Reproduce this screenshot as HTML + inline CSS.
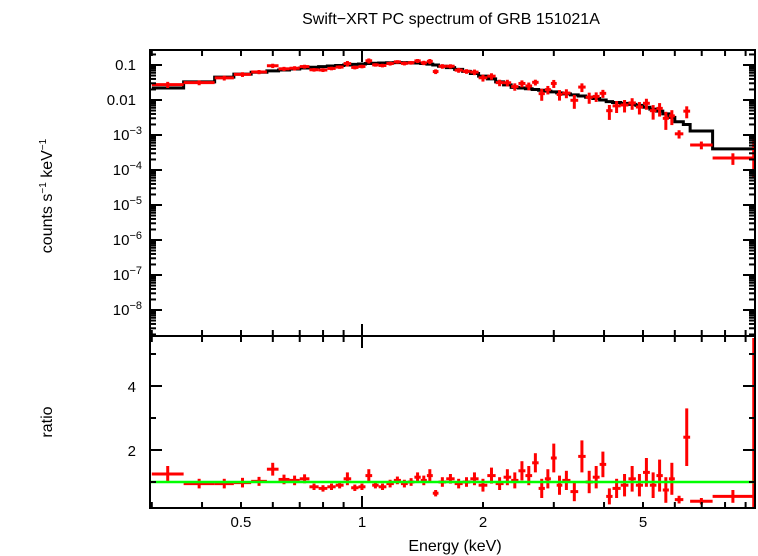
<!DOCTYPE html>
<html><head><meta charset="utf-8"><style>
body{margin:0;background:#fff;}
svg{display:block;font-family:"Liberation Sans",sans-serif;}
</style></head><body>
<svg id="chart" width="758" height="556" viewBox="0 0 758 556" xmlns="http://www.w3.org/2000/svg">
<text x="451" y="24" font-size="16" text-anchor="middle">Swift−XRT PC spectrum of GRB 151021A</text>
<text transform="translate(52,196) rotate(-90)" font-size="16" text-anchor="middle">counts s<tspan dy="-6" font-size="10">−1</tspan><tspan dy="6"> keV</tspan><tspan dy="-6" font-size="10">−1</tspan></text>
<text transform="translate(52,422) rotate(-90)" font-size="16" text-anchor="middle">ratio</text>
<text x="455" y="551" font-size="16" text-anchor="middle">Energy (keV)</text>
<g id="marks"></g>
<g id="axes"></g>
</svg>
<script>
const eLo=[0.30,0.36,0.43,0.48,0.53,0.58,0.62,0.66,0.70,0.74,0.78,0.82,0.86,0.90,0.94,0.98,1.02,1.06,1.10,1.15,1.20,1.25,1.30,1.35,1.40,1.45,1.50,1.55,1.62,1.70,1.78,1.86,1.95,2.05,2.15,2.25,2.35,2.45,2.55,2.65,2.75,2.85,2.95,3.05,3.15,3.30,3.45,3.60,3.75,3.90,4.05,4.20,4.40,4.60,4.80,5.00,5.20,5.40,5.60,5.80,6.00,6.30,6.55,7.45];
const eHi=[0.36,0.43,0.48,0.53,0.58,0.62,0.66,0.70,0.74,0.78,0.82,0.86,0.90,0.94,0.98,1.02,1.06,1.10,1.15,1.20,1.25,1.30,1.35,1.40,1.45,1.50,1.55,1.62,1.70,1.78,1.86,1.95,2.05,2.15,2.25,2.35,2.45,2.55,2.65,2.75,2.85,2.95,3.05,3.15,3.30,3.45,3.60,3.75,3.90,4.05,4.20,4.40,4.60,4.80,5.00,5.20,5.40,5.60,5.80,6.00,6.30,6.55,7.45,9.40];
const model=[0.022,0.033,0.045,0.055,0.062,0.068,0.072,0.077,0.082,0.086,0.09,0.094,0.097,0.10,0.104,0.107,0.11,0.112,0.114,0.116,0.117,0.117,0.116,0.114,0.11,0.106,0.10,0.092,0.084,0.075,0.066,0.057,0.048,0.04,0.033,0.027,0.023,0.022,0.021,0.020,0.019,0.018,0.017,0.016,0.015,0.014,0.013,0.012,0.011,0.010,0.009,0.0085,0.008,0.0075,0.007,0.0062,0.0055,0.0048,0.0040,0.0032,0.0024,0.0020,0.0013,0.0004];
const ratio=[1.25,0.95,0.95,0.98,1.02,1.4,1.08,1.05,1.1,0.85,0.8,0.85,0.9,1.1,0.82,0.85,1.2,0.9,0.85,0.95,1.05,0.95,1.0,1.15,1.05,1.2,0.65,1.0,1.1,0.95,1.0,1.1,0.9,1.2,0.95,1.15,1.05,1.35,1.2,1.6,0.8,1.1,1.75,0.9,1.05,0.7,1.8,1.0,1.15,1.55,0.55,0.8,0.9,1.1,0.9,1.3,0.9,1.2,0.75,1.1,0.45,2.4,0.4,0.55];
const ratioErr=[0.25,0.15,0.15,0.15,0.14,0.2,0.15,0.15,0.14,0.1,0.1,0.1,0.1,0.2,0.1,0.1,0.2,0.1,0.1,0.12,0.12,0.12,0.12,0.15,0.15,0.2,0.1,0.15,0.15,0.15,0.15,0.2,0.2,0.25,0.2,0.25,0.25,0.3,0.3,0.3,0.3,0.3,0.45,0.3,0.3,0.3,0.5,0.35,0.35,0.4,0.25,0.3,0.35,0.4,0.35,0.45,0.4,0.5,0.4,0.5,0.12,0.9,0.1,0.2];
const xTickLabels=[0.5,1,2,5];
const yTopTickExps=[-1,-2,-3,-4,-5,-6,-7,-8];
const yBotTickLabels=[2,4];

const L=150,R=755,T=50,M=336,B=508;
const X=e=>362+402*Math.log10(e);
const YT=v=>65-35*(Math.log10(v)+1);
const YB=r=>482-32*(r-1);
const NS="http://www.w3.org/2000/svg";
const marks=document.getElementById('marks'),axes=document.getElementById('axes');
function mk(p,tag,at){const e=document.createElementNS(NS,tag);for(const k in at)e.setAttribute(k,at[k]);p.appendChild(e);return e;}
const clip=v=>Math.max(T,Math.min(M,v));
const clipB=v=>Math.max(M,Math.min(B,v));

let d='';
for(let i=0;i<eLo.length;i++){d+=(i?'L':'M')+X(eLo[i])+' '+YT(model[i])+'L'+X(eHi[i])+' '+YT(model[i]);}
d+='L'+(R-1)+' '+YT(model[model.length-1]);
const ml=mk(marks,'path',{d:d,fill:'none',stroke:'#000','stroke-width':3});



for(let i=0;i<eLo.length;i++){
  const xm=X(Math.sqrt(eLo[i]*eHi[i]));
  const v=model[i]*ratio[i], ve=model[i]*ratioErr[i];
  const g=mk(marks,'g',{stroke:'#f00','stroke-width':3});
  
  
  mk(g,'line',{x1:X(eLo[i]),x2:X(eHi[i]),y1:YT(v),y2:YT(v)});
  mk(g,'line',{x1:xm,x2:xm,y1:clip(YT(v+ve)),y2:clip(YT(Math.max(v-ve,1e-12)))});
  const g2=mk(marks,'g',{stroke:'#f00','stroke-width':3});
  
  
  mk(g2,'line',{x1:X(eLo[i]),x2:X(eHi[i]),y1:YB(ratio[i]),y2:YB(ratio[i])});
  mk(g2,'line',{x1:xm,x2:xm,y1:clipB(YB(ratio[i]+ratioErr[i])),y2:clipB(YB(ratio[i]-ratioErr[i]))});
}
const ed=mk(marks,'g',{stroke:'#f00','stroke-width':2.5});


mk(ed,'line',{x1:753.5,x2:753.5,y1:135,y2:178});
mk(ed,'line',{x1:753.5,x2:753.5,y1:338,y2:508});

const ul=mk(marks,'line',{x1:L,x2:R,y1:YB(1),y2:YB(1),stroke:'#0f0','stroke-width':2.5});



const f1=mk(axes,'rect',{x:L,y:T,width:R-L,height:M-T,fill:'none',stroke:'#000','stroke-width':2});


const f2=mk(axes,'rect',{x:L,y:M,width:R-L,height:B-M,fill:'none',stroke:'#000','stroke-width':2});



const minorE=[0.3,0.4,0.5,0.6,0.7,0.8,0.9,2,3,4,5,6,7,8,9];
function xt(e,len){const x=X(e);
  [[T,1],[M,-1],[M,1],[B,-1]].forEach(([y,s])=>{const t=mk(axes,'line',{x1:x,x2:x,y1:y,y2:y+s*len,stroke:'#000','stroke-width':2});
  
  });}
minorE.forEach(e=>xt(e,6));xt(1,12);
xTickLabels.forEach(e=>{const t=mk(axes,'text',{x:X(e),y:527,'font-size':15,'text-anchor':'middle'});t.textContent=String(e);
  
  });

for(let p=-9;p<=0;p++){for(let k=1;k<10;k++){const v=k*Math.pow(10,p);const y=YT(v);if(y<T||y>M)continue;const len=k===1?12:6;
  [[L,1],[R,-1]].forEach(([x,s])=>{const t=mk(axes,'line',{x1:x,x2:x+s*len,y1:y,y2:y,stroke:'#000','stroke-width':2});
  
  });}}
yTopTickExps.forEach(p=>{const y=YT(Math.pow(10,p))+5;
  const t=mk(axes,'text',{x:136,y:y,'font-size':15,'text-anchor':'end'});
  
  
  if(p===-1)t.textContent='0.1';else if(p===-2)t.textContent='0.01';
  else{t.textContent='10';const s=document.createElementNS(NS,'tspan');s.setAttribute('dy','-6');s.setAttribute('font-size','11');s.textContent='−'+(-p);t.appendChild(s);t.setAttribute('x',142);}});

[1,2,3,4,5].forEach(r=>{const y=YB(r);const len=(r%2===0)?12:6;
  [[L,1],[R,-1]].forEach(([x,s])=>{const t=mk(axes,'line',{x1:x,x2:x+s*len,y1:y,y2:y,stroke:'#000','stroke-width':2});
  
  });});
yBotTickLabels.forEach(r=>{const t=mk(axes,'text',{x:136,y:YB(r)+6,'font-size':15,'text-anchor':'end'});t.textContent=String(r);
  
  });
</script>
</body></html>
